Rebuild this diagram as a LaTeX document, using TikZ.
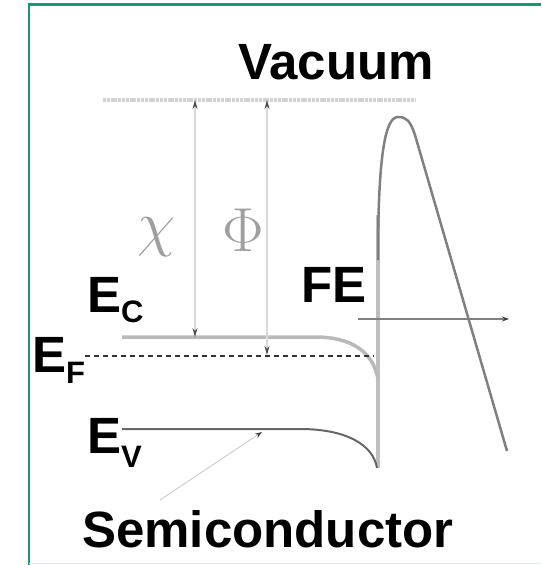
\documentclass[tikz,border=0pt]{standalone}
\usepackage{fontspec}
\setmainfont{Liberation Sans}
\usetikzlibrary{arrows.meta}
\definecolor{frameteal}{RGB}{22,150,122}
\definecolor{framecyan}{RGB}{205,240,245}
\tikzset{
  lbl/.style={inner sep=0pt, anchor=base west, font=\fontsize{51}{51}\bfseries\selectfont},
  greek/.style={inner sep=0pt, text=gray!75, font=\Huge, scale=2.5},
  vacline/.style={line width=3.5pt, gray!35, dash pattern=on 3pt off 0.8pt},
  condband/.style={line width=3.5pt, gray!55},
  valband/.style={line width=2pt, black!60},
  fermi/.style={line width=2pt, black!80, dash pattern=on 5pt off 4pt},
  iface/.style={line width=4pt, gray!50},
  barrier/.style={line width=2.5pt, black!50},
  dimarrow/.style={line width=1.2pt, gray!30, {Stealth[length=9pt,width=5pt,black!70]}-{Stealth[length=9pt,width=5pt,black!70]}},
  axisarrow/.style={line width=1.5pt, black!50, -{Stealth[length=7pt,width=5pt,black!75]}},
  pointer/.style={line width=1pt, gray!35, -{Stealth[length=7pt,width=5pt,black!75]}}
}
\begin{document}
\begin{tikzpicture}[x=1pt,y=-1pt]
\useasboundingbox (0,0) rectangle (541,565);
% frame
\draw[frameteal, line width=2.2pt] (29,565) -- (29,4.5) -- (541,4.5);
\draw[framecyan, line width=1.5pt] (29,563.5) -- (541,563.5);
% levels
\coordinate (vacL) at (103,100);
\coordinate (vacR) at (416,100);
\coordinate (chiTop) at (195,100);
\coordinate (phiTop) at (267,100);
\coordinate (chiBot) at (195,337);
\coordinate (phiBot) at (267,355);
\draw[vacline] (vacL) -- (vacR);
\draw[iface] (378,215) -- (378,468);
\draw[condband] (122,337) -- (315,337) .. controls (352,337) and (373,352) .. (378,379);
\draw[fermi] (85,356) -- (374,356);
\draw[valband] (122,429) -- (300,429) .. controls (345,429) and (373,444) .. (377,468);
\draw[barrier] (378,260) .. controls (378,150) and (386,117) .. (398,117) .. controls (406,117) and (410,120) .. (415,135) -- (507,451);
% dimension arrows
\draw[dimarrow] (chiTop) -- (chiBot);
\draw[dimarrow] (phiTop) -- (phiBot);
% FE axis
\coordinate (axL) at (358,319);
\coordinate (axR) at (509,319);
\draw[axisarrow] (axL) -- (axR);
% labels
\node[lbl] (vac) at (238,79) {Vacuum};
\node[lbl] (fe) at (301,302) {FE};
\node[lbl] (ec) at (87,312) {E\raisebox{-10pt}{\fontsize{31}{31}\bfseries\selectfont C}};
\node[lbl] (ef) at (32,372) {E\raisebox{-11pt}{\fontsize{31}{31}\bfseries\selectfont F}};
\node[lbl] (ev) at (87,453) {E\raisebox{-14pt}{\fontsize{31}{31}\bfseries\selectfont V}};
\node[lbl] (semi) at (82,547) {Semiconductor};
\node[greek] (chi) at (157,237) {$\chi$};
\node[greek] (phi) at (243,230) {$\Phi$};
% pointer
\coordinate (ptrS) at (160,500);
\coordinate (ptrE) at (262,432);
\draw[pointer] (ptrS) -- (ptrE);
\end{tikzpicture}
\end{document}
